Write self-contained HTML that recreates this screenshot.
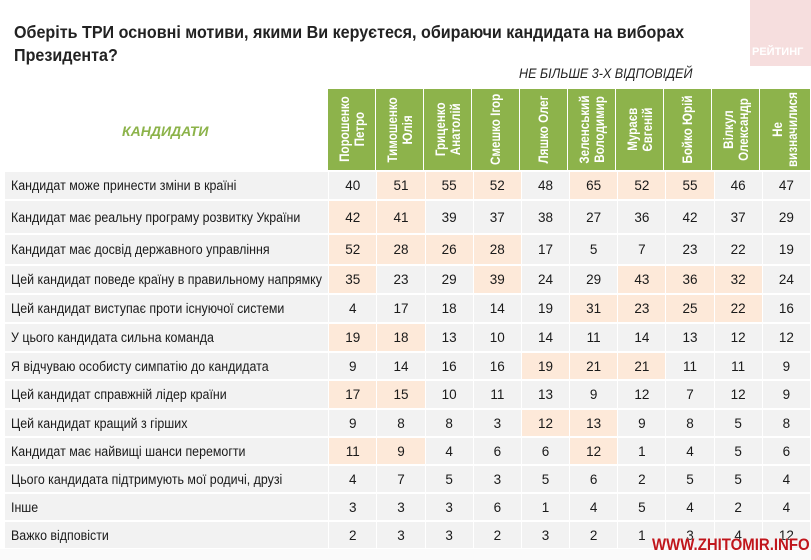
<!DOCTYPE html>
<html><head><meta charset="utf-8">
<style>
body{margin:0;width:811px;height:560px;overflow:hidden;background:#fff;font-family:"Liberation Sans",Arial,sans-serif;position:relative}
.t{position:absolute;left:14px;top:21px;font-size:17.5px;font-weight:bold;color:#222;line-height:23px;transform:scaleX(0.92);transform-origin:left top;white-space:nowrap}
.sub{position:absolute;left:519px;top:66px;font-size:13.5px;font-style:italic;color:#222;transform:scaleX(0.93);transform-origin:left top}
.logo{position:absolute;left:750px;top:0;width:61px;height:66px;background:#f6dede}
.logo span{position:absolute;left:2px;top:46px;color:#fff;font-weight:bold;font-size:11px}
.kand{position:absolute;left:122px;top:123px;color:#8cb34a;font-weight:bold;font-style:italic;font-size:14px}
.h{position:absolute;top:89px;height:81px;width:47px;background:#8db34b;color:#fff;font-weight:bold;font-size:13.5px;line-height:15px;display:flex;align-items:center;justify-content:center;overflow:hidden}
.h div{writing-mode:vertical-rl;transform:rotate(180deg) scale(1,0.86);text-align:center;white-space:nowrap}
table{position:absolute;left:4px;top:170px;border-collapse:separate;border-spacing:1px 2px;table-layout:fixed;width:807px}
td{background:#f2f2f2;font-size:13.5px;color:#1a1a1a;text-align:center;padding:0}
td.l{text-align:left;padding-left:6px;font-size:13.5px;white-space:nowrap;overflow:hidden}
td.l span{display:inline-block;transform:scaleX(0.92);transform-origin:left center}
td.p{background:#fde9d9}
.wm{position:absolute;left:0;top:549px;width:811px;height:11px;background:#fafafa}
.w{position:absolute;left:652px;top:535px;color:#c0161c;font-weight:bold;font-size:17px;transform:scaleX(0.88);transform-origin:left top;text-shadow:0 0 2px #fff;white-space:nowrap}
</style></head><body>
<div class="logo"><span>РЕЙТИНГ</span></div>
<div class="t">Оберіть ТРИ основні мотиви, якими Ви керуєтеся, обираючи кандидата на виборах<br>Президента?</div>
<div class="sub">НЕ БІЛЬШЕ 3-Х ВІДПОВІДЕЙ</div>
<div class="kand">КАНДИДАТИ</div>
<div class="h" style="left:328px"><div>Порошенко<br>Петро</div></div>
<div class="h" style="left:376px"><div>Тимошенко<br>Юлія</div></div>
<div class="h" style="left:424px"><div>Гриценко<br>Анатолій</div></div>
<div class="h" style="left:472px"><div>Смешко Ігор</div></div>
<div class="h" style="left:520px"><div>Ляшко Олег</div></div>
<div class="h" style="left:568px"><div>Зеленський<br>Володимир</div></div>
<div class="h" style="left:616px"><div>Мураєв<br>Євгеній</div></div>
<div class="h" style="left:664px"><div>Бойко Юрій</div></div>
<div class="h" style="left:712px"><div>Вілкул<br>Олександр</div></div>
<div class="h" style="left:760px;width:50px"><div>Не<br>визначилися</div></div>
<table>
<colgroup><col style="width:322px"><col style="width:47px"><col style="width:47px"><col style="width:47px"><col style="width:47px"><col style="width:47px"><col style="width:47px"><col style="width:47px"><col style="width:47px"><col style="width:47px"><col style="width:47px"></colgroup>
<tr style="height:27px"><td class="l"><span>Кандидат може принести зміни в країні</span></td><td>40</td><td class="p">51</td><td class="p">55</td><td class="p">52</td><td>48</td><td class="p">65</td><td class="p">52</td><td class="p">55</td><td>46</td><td>47</td></tr>
<tr style="height:32px"><td class="l"><span>Кандидат має реальну програму розвитку України</span></td><td class="p">42</td><td class="p">41</td><td>39</td><td>37</td><td>38</td><td>27</td><td>36</td><td>42</td><td>37</td><td>29</td></tr>
<tr style="height:29px"><td class="l"><span>Кандидат має досвід державного управління</span></td><td class="p">52</td><td class="p">28</td><td class="p">26</td><td class="p">28</td><td>17</td><td>5</td><td>7</td><td>23</td><td>22</td><td>19</td></tr>
<tr style="height:27px"><td class="l"><span>Цей кандидат поведе країну в правильному напрямку</span></td><td class="p">35</td><td>23</td><td>29</td><td class="p">39</td><td>24</td><td>29</td><td class="p">43</td><td class="p">36</td><td class="p">32</td><td>24</td></tr>
<tr style="height:27px"><td class="l"><span>Цей кандидат виступає проти існуючої системи</span></td><td>4</td><td>17</td><td>18</td><td>14</td><td>19</td><td class="p">31</td><td class="p">23</td><td class="p">25</td><td class="p">22</td><td>16</td></tr>
<tr style="height:27px"><td class="l"><span>У цього кандидата сильна команда</span></td><td class="p">19</td><td class="p">18</td><td>13</td><td>10</td><td>14</td><td>11</td><td>14</td><td>13</td><td>12</td><td>12</td></tr>
<tr style="height:26px"><td class="l"><span>Я відчуваю особисту симпатію до кандидата</span></td><td>9</td><td>14</td><td>16</td><td>16</td><td class="p">19</td><td class="p">21</td><td class="p">21</td><td>11</td><td>11</td><td>9</td></tr>
<tr style="height:27px"><td class="l"><span>Цей кандидат справжній лідер країни</span></td><td class="p">17</td><td class="p">15</td><td>10</td><td>11</td><td>13</td><td>9</td><td>12</td><td>7</td><td>12</td><td>9</td></tr>
<tr style="height:26px"><td class="l"><span>Цей кандидат кращий з гірших</span></td><td>9</td><td>8</td><td>8</td><td>3</td><td class="p">12</td><td class="p">13</td><td>9</td><td>8</td><td>5</td><td>8</td></tr>
<tr style="height:26px"><td class="l"><span>Кандидат має найвищі шанси перемогти</span></td><td class="p">11</td><td class="p">9</td><td>4</td><td>6</td><td>6</td><td class="p">12</td><td>1</td><td>4</td><td>5</td><td>6</td></tr>
<tr style="height:26px"><td class="l"><span>Цього кандидата підтримують мої родичі, друзі</span></td><td>4</td><td>7</td><td>5</td><td>3</td><td>5</td><td>6</td><td>2</td><td>5</td><td>5</td><td>4</td></tr>
<tr style="height:26px"><td class="l"><span>Інше</span></td><td>3</td><td>3</td><td>3</td><td>6</td><td>1</td><td>4</td><td>5</td><td>4</td><td>2</td><td>4</td></tr>
<tr style="height:26px"><td class="l"><span>Важко відповісти</span></td><td>2</td><td>3</td><td>3</td><td>2</td><td>3</td><td>2</td><td>1</td><td>3</td><td>4</td><td>12</td></tr>
</table>
<div class="wm"></div>
<div class="w">WWW.ZHITOMIR.INFO</div>
</body></html>
